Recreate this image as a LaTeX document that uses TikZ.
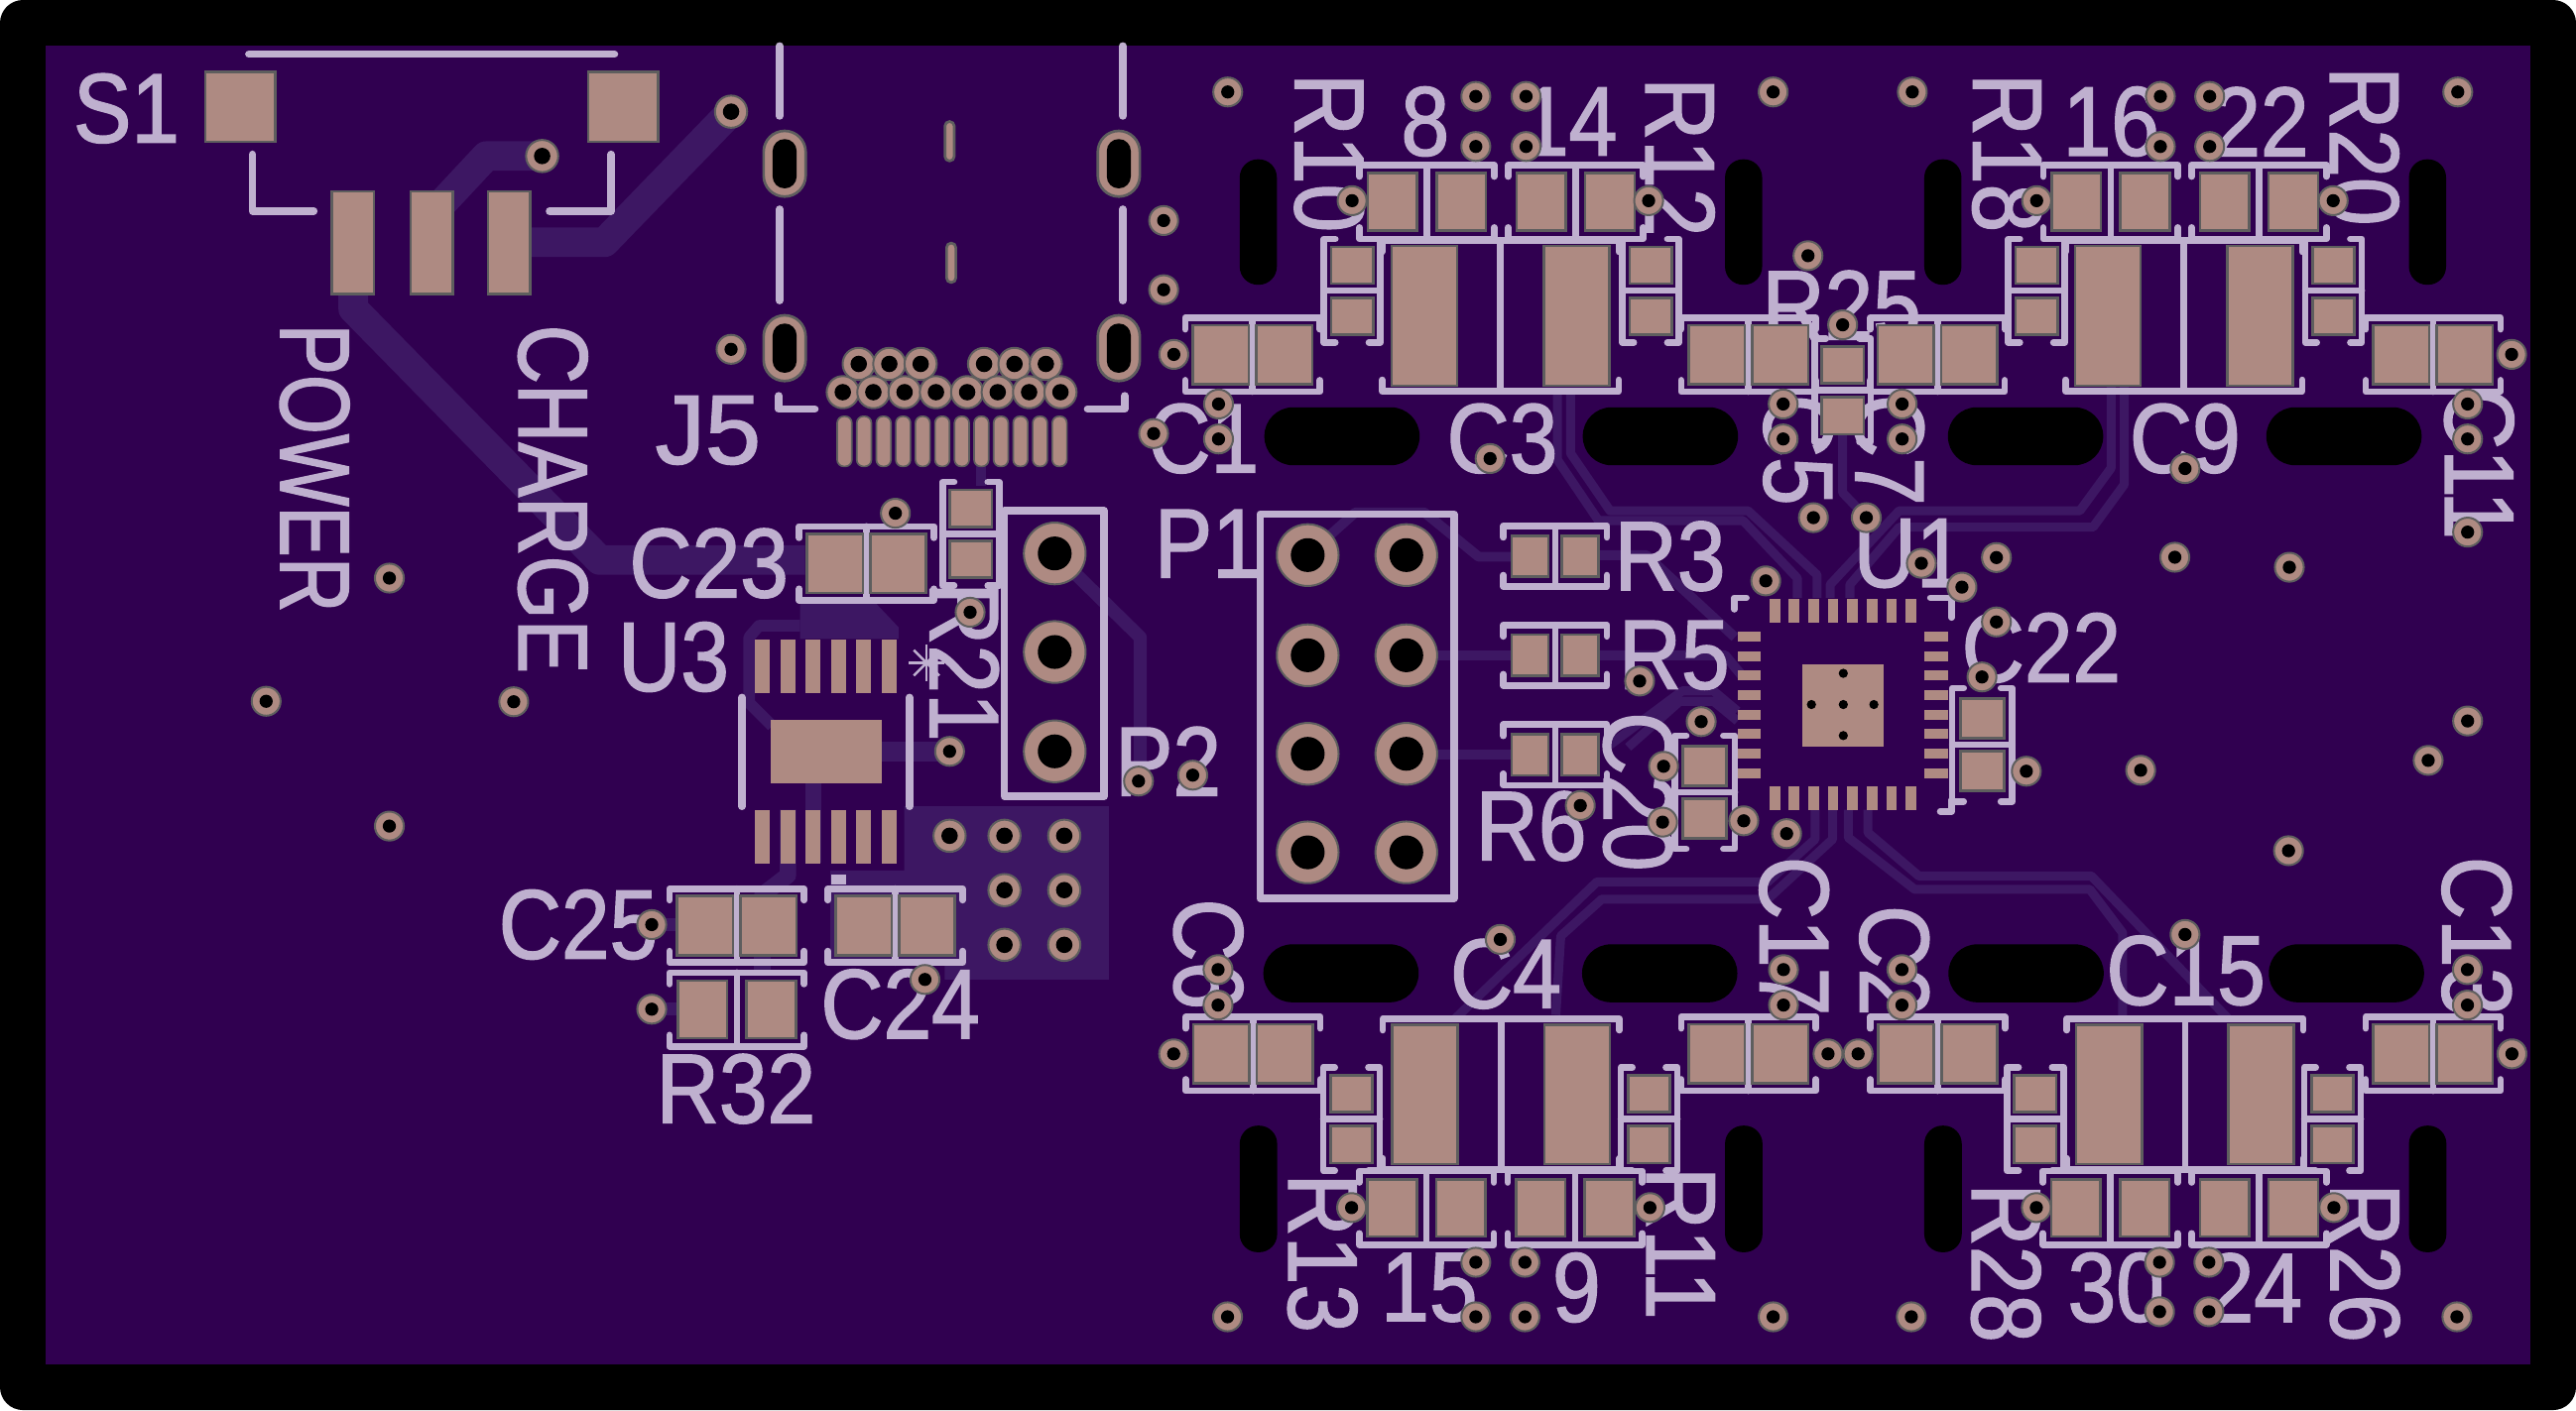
\documentclass[tikz,border=0pt]{standalone}
\usepackage{fontspec}
\newfontfamily\silkfont[FakeStretch=0.88,FakeBold=1.5]{Liberation Sans}
\definecolor{boardc}{HTML}{300050}
\definecolor{padc}{HTML}{AE8A82}
\definecolor{edgec}{HTML}{5E5E5E}
\definecolor{silkc}{HTML}{BFB0CF}
\definecolor{trackc}{HTML}{3D1763}
\tikzset{
  silk/.style={text=silkc,font=\silkfont\fontsize{60}{60}\selectfont,inner sep=0pt},
  silkline/.style={draw=silkc,line width=4.6,line cap=round,line join=round},
  chipline/.style={draw=silkc,line width=4,line cap=round,line join=round},
  copper/.style={fill=padc,draw=edgec,line width=1.6},
  flatpad/.style={fill=padc},
  track/.style={draw=trackc,line width=5.5,line join=round},
  wide/.style={draw=trackc,line width=18,line join=round},
  viaring/.style={fill=padc,draw=edgec,line width=1.2},
  pics/chip/.style n args={5}{code={
    \draw[chipline] (-#4,{-#5+7}) -- (-#4,-#5) -- (#4,-#5) -- (#4,{-#5+7});
    \draw[chipline] (-#4,{#5-7}) -- (-#4,#5) -- (#4,#5) -- (#4,{#5-7});
    \draw[chipline] (0,-#5) -- (0,#5);
    \draw[copper] ({-#3-#1/2},{-#2/2}) rectangle ({-#3+#1/2},{#2/2});
    \draw[copper] ({#3-#1/2},{-#2/2}) rectangle ({#3+#1/2},{#2/2});
  }},
  pics/capchip/.style={chip={34}{36}{19.3}{41}{22.5}},
  pics/reschip/.style={chip={30}{35}{20.9}{41}{22.5}},
  pics/midchip/.style={chip={22.5}{25}{15.3}{31.5}{18.5}},
  pics/tinychip/.style={chip={22.5}{25.6}{15.5}{31.5}{17.2}},
  pics/smdchip/.style={chip={24}{26.5}{16}{34.5}{18.3}},
  pics/bigchip/.style={chip={40}{85}{46.3}{72}{46}},
}
\begin{document}
\begin{tikzpicture}[x=1pt,y=-1pt]
\useasboundingbox (0,0) rectangle (1568,858.6);
\fill[black,rounded corners=14] (0,0) rectangle (1568,858.6);
\fill[boardc] (28,28) rectangle (1540,831);

% tracks
\draw[wide] (322,147.5) -- (368,147.5) -- (445,68);
\draw[wide] (268,125) -- (296,95) -- (330,95);
\draw[wide] (215,179) -- (215,188) -- (365,341) -- (490,341);
\fill[trackc] (487,364) -- (530,364) -- (547,382) -- (547,389) -- (487,389) -- cycle;
\fill[trackc] (550.4,491) -- (675,491) -- (675,596.4) -- (575,596.4) -- (575,586) -- (505.5,586) -- (505.5,530) -- (550.4,530) -- cycle;
\draw[track,line width=7] (487,381) -- (462,381) -- (456,388) -- (456,428) -- (470,442);
\draw[track,line width=12] (537,457.5) -- (578,457.5);
\draw[track,line width=10] (495,477) -- (495,525);
\draw[track,line width=10] (479.6,493) -- (479.6,533) -- (464,545) -- (464,592);
\draw[track,line width=8] (642,337) -- (694,388) -- (694,475);
\draw[track,line width=8] (396.7,563) -- (413,563);
\draw[track,line width=8] (396.7,614.5) -- (413,614.5);
\draw[track,line width=6] (597,284) -- (597,296);
\draw[track] (948,238) -- (948,280) -- (973,317) -- (1061,317) -- (1094,352) -- (1094,364);
\draw[track] (956,238) -- (956,276) -- (980,311) -- (1064,311) -- (1106,350) -- (1106,364);
\draw[track] (1114,364) -- (1114,356) -- (1156,311) -- (1266,311) -- (1285,285) -- (1285,235);
\draw[track] (1126,364) -- (1126,356) -- (1156,321) -- (1274,321) -- (1293,295) -- (1293,235);
\draw[track] (1121.6,264) -- (1121.6,300) -- (1136,315);
\draw[track,line width=6] (796,338) -- (825,312) -- (867,312) -- (900,339) -- (920,339);
\draw[track,line width=6] (973,338) -- (1002,338) -- (1056,388);
\draw[track,line width=6] (856,399) -- (920,399);
\draw[track,line width=6] (973,399) -- (1050,399) -- (1060,411);
\draw[track,line width=6] (856,459.5) -- (920,459.5);
\draw[track] (978,455) -- (1024,420.7) -- (1043,420.7) -- (1057.6,433);
\draw[track] (991,455) -- (1022.5,427) -- (1043,427) -- (1057.6,439);
\draw[track] (1104.8,493) -- (1104.8,511) -- (1076,537) -- (972,537) -- (886,620);
\draw[track] (1115.5,493) -- (1115.5,511) -- (1076,547.5) -- (975,547.5) -- (950,570) -- (947,618);
\draw[track] (1125,493) -- (1125,510) -- (1165.4,541.5) -- (1272,541.5) -- (1292,568) -- (1292,620);
\draw[track] (1137,493) -- (1137,507) -- (1168,533.4) -- (1273,533.4) -- (1356,620);

% silkscreen lines
\draw[silkline] (151.5,33) -- (374,33);
\draw[silkline] (153.7,94) -- (153.7,128.5) -- (191,128.5);
\draw[silkline] (372,94) -- (372,128.5) -- (334.5,128.5);
\draw[silkline] (474.5,28) -- (474.5,70.6);
\draw[silkline] (474.5,127.4) -- (474.5,183);
\draw[silkline] (683.5,28) -- (683.5,70.6);
\draw[silkline] (683.5,127.4) -- (683.5,183);
\draw[silkline] (474,241) -- (474,249) -- (496,249);
\draw[silkline] (684.6,241) -- (684.6,249) -- (662,249);
\draw[silkline] (767,313) rectangle (885,547);
\draw[silkline] (611.4,311) rectangle (672,485);
\draw[silkline] (451.6,424.7) -- (451.6,491);
\draw[silkline] (553.5,424.7) -- (553.5,491);
\draw[chipline] (1055.7,371) -- (1055.7,364) -- (1063,364);
\draw[chipline] (1175,364) -- (1188,364) -- (1188,376);
\draw[chipline] (1188,487) -- (1188,494) -- (1181,494);
\fill[silkc] (505.9,532.4) rectangle (514.9,538.4);
\foreach \a in {0,45,...,315}
  \draw[silkc,line width=1.5] (564,403.6) -- ++(\a:11);

% silkscreen labels
\node[silk] (lblSone) at (77,66) {S1};
\node[silk] (lblJfive) at (431,262) {\scalebox{1.15}[1]{J5}};
\node[silk,rotate=-90] (lblPower) at (191.5,285) {\scalebox{.88}[1]{POWER}};
\node[silk,rotate=-90] (lblCharge) at (336.5,304) {\scalebox{.94}[1]{CHARGE}};
\node[silk] (lblCtwothree) at (431.5,343) {C23};
\node[silk] (lblUthree) at (410,400) {U3};
\node[silk,rotate=-90] (lblRtwoone) at (587,403) {R21};
\node[silk] (lblPtwo) at (711,463.5) {P2};
\node[silk] (lblPone) at (735,331) {P1};
\node[silk] (lblCtwofive) at (352,563) {C25};
\node[silk] (lblCtwofour) at (548,611.5) {C24};
\node[silk] (lblRthreetwo) at (448,663) {R32};
\node[silk,rotate=-90] (lblRten) at (809,93) {R10};
\node[silk] (lblEight) at (867.5,74) {8};
\node[silk] (lblFourteen) at (955,74) {14};
\node[silk,rotate=-90] (lblRtwelve) at (1022.7,95.6) {R12};
\node[silk,rotate=-90] (lblReighteen) at (1221.7,93) {R18};
\node[silk] (lblSixteen) at (1285,74) {16};
\node[silk] (lblTwotwo) at (1376,74) {22};
\node[silk,rotate=-90] (lblRtwenty) at (1439,89) {R20};
\node[silk] (lblCone) at (732.5,267) {C1};
\node[silk] (lblCthree) at (914.4,267) {C3};
\node[silk,rotate=-90] (lblCfive) at (1094.5,274) {C5};
\node[silk,rotate=-90] (lblCseven) at (1150,274) {C7};
\node[silk] (lblCnine) at (1330,267) {C9};
\node[silk,rotate=-90] (lblCeleven) at (1509,282) {C11};
\node[silk] (lblRtwofive) at (1121,186) {R25};
\node[silk] (lblRthree) at (1016.5,338.7) {R3};
\node[silk] (lblRfive) at (1019,399) {R5};
\node[silk] (lblRsix) at (932,503) {R6};
\node[silk,rotate=-90] (lblCtwenty) at (997,482) {C20};
\node[silk] (lblUone) at (1162,337) {U1};
\node[silk] (lblCtwotwo) at (1242.5,394.5) {C22};
\node[silk,rotate=-90] (lblCseventeen) at (1092,570) {C17};
\node[silk,rotate=-90] (lblCsix) at (735.5,581) {C6};
\node[silk] (lblCfour) at (916.5,593) {C4};
\node[silk,rotate=-90] (lblCtwo) at (1153,585) {C2};
\node[silk] (lblCfifteen) at (1330.5,591) {C15};
\node[silk,rotate=-90] (lblCthirteen) at (1507.5,570) {C13};
\node[silk,rotate=-90] (lblRthirteen) at (805,763) {R13};
\node[silk] (lblFifteen) at (870,784) {15};
\node[silk] (lblNine) at (959.6,784) {9};
\node[silk,rotate=-90] (lblReleven) at (1023,757) {R11};
\node[silk,rotate=-90] (lblRtweight) at (1221,769) {R28};
\node[silk] (lblThirty) at (1288,784) {30};
\node[silk] (lblTwofour) at (1372,784) {24};
\node[silk,rotate=-90] (lblRtwosix) at (1439.5,769) {R26};

% chips
\foreach \p in {(527.5,343),(762.4,216),(1064.3,216),(1179.3,216),(1481,216),(448.5,563.6),(545,563.6),(762.7,641.7),(1064.3,641.7),(1179.4,641.7),(1481,641.7)}
  \pic at \p {capchip};
\foreach \p in {(448.5,614.7),(868.5,123),(959,123),(1284.7,123),(1375,123),(868.3,735.5),(958.7,735.5),(1284.5,735.5),(1375,735.5)}
  \pic at \p {reschip};
\foreach \p in {(946.6,338.7),(946.6,399),(946.6,459.6)}
  \pic at \p {midchip};
\foreach \p in {(823,177),(1004.7,177),(1239.7,177),(1420.4,177),(1121.6,237.6),(591,325),(822.7,681.4),(1003.8,681.4),(1238.9,681.4),(1419.8,681.4)}
  \pic[rotate=90] at \p {tinychip};
\foreach \p in {(1037.7,482.4),(1206.6,453.5)}
  \pic[rotate=90] at \p {smdchip};
\foreach \p in {(913.3,192.3),(1329.3,192.3),(913.7,666.3),(1330,666.3)}
  \pic at \p {bigchip};

% S1 and J5 pads
\draw[copper] (125,43.8) rectangle (167.5,86.4);
\draw[copper] (358,43.8) rectangle (400.5,86.4);
\foreach \x in {202,250,297}
  \draw[copper] (\x,116.6) rectangle ++(25.6,62.4);
\draw[copper,rounded corners=2.7] (575.2,74) rectangle (580.8,98);
\draw[copper,rounded corners=2.7] (576.2,148) rectangle (581.8,172);
\foreach \x in {0,...,11}
  \draw[copper,line width=1,rounded corners=4] ({509.6+11.9*\x},253.5) rectangle ++(8.9,30.5);
\foreach \x/\y in {477.6/99.7,477.6/212,681/99.7,681/212} {
  \draw[copper,rounded corners=12.8] ({\x-12.8},{\y-20}) rectangle ({\x+12.8},{\y+20});
  \fill[black,rounded corners=7.2] ({\x-7.3},{\y-15}) rectangle ({\x+7.3},{\y+15});
}

% U1 and U3 pads
\foreach \x in {1080.5,1091.8,1104,1115.8,1127.4,1139.5,1151.4,1163} {
  \fill[flatpad] ({\x-3.2},364.7) rectangle ++(6.4,14.5);
  \fill[flatpad] ({\x-3.2},479) rectangle ++(6.4,14.5);
}
\foreach \y in {387.7,399.7,411.2,423.3,435.4,446.8,458.9,471} {
  \fill[flatpad] (1057.6,{\y-3.2}) rectangle ++(14,6.4);
  \fill[flatpad] (1171.6,{\y-3.2}) rectangle ++(14.4,6.4);
}
\fill[flatpad] (1097.2,404.6) rectangle (1146.6,454.6);
\foreach \p in {(1122,410),(1102.6,429),(1122,429),(1140.6,429),(1122,447.9)}
  \fill[black] \p circle (2.8);
\foreach \x in {459.6,475,490.4,505.8,521.2,536.6} {
  \fill[flatpad] (\x,389.5) rectangle ++(9.2,32.5);
  \fill[flatpad] (\x,493.5) rectangle ++(9.2,32.3);
}
\fill[flatpad] (469,438.4) rectangle (536.6,477);

% header pads
\foreach \p in {(796,338),(856,338),(796,399),(856,399),(796,459),(856,459),(796,519),(856,519),(642,337),(642,397),(642,457.5)} {
  \draw[viaring] \p circle (18.8);
  \fill[black] \p circle (10.3);
}

% slots
\foreach \x/\y in {769.6/248,963.4/248,1185.7/248,1379.5/248,769/575,963/575,1186/575,1381/575}
  \fill[black,rounded corners=17.5] (\x,\y) rectangle ++(94.5,35.3);
\foreach \x in {754.6,1050,1171.3,1466.3} {
  \fill[black,rounded corners=11] (\x,97) rectangle ++(22.6,76.4);
  \fill[black,rounded corners=11] (\x,685.4) rectangle ++(22.8,77.1);
}

% vias
\foreach \p in {(445,212.7),(237,352),(162,427),(312.7,427.3),(237,503),(545,312.5),(590.5,372.8),(578,457.5),(693,475.6),(726,472),
  (747.3,56),(898.3,58.7),(928.9,58.7),(1079.3,56),(1164,56),(1315,58.7),(1345,58.7),(1496,56),
  (898.3,89.2),(928.9,89.2),(1315,89.2),(1345,89.2),(708.3,134.3),(708.3,176.4),
  (823,122.2),(1003.5,122.2),(1239.7,122.2),(1420.2,122.2),(1100.5,155.7),(1121.6,197.8),(714.5,215.8),(1528.8,215.8),
  (741.7,246),(741.7,267.3),(702.2,264),(907,279.2),(1085.4,246),(1085.4,267.3),(1157.8,246),(1157.8,267.3),(1502,246),(1502,267.3),(1330,285.3),(1502,324),
  (1103.8,315.2),(1136,315.2),(1169.5,343),(1215.2,339.5),(1323.8,339.3),(1393.5,345.4),(1074.8,353.7),(1194.2,357.5),(1215.2,378.7),(1206.4,412.2),(998,414.7),
  (1035.5,439.4),(1012.6,466.6),(1012,500.6),(1061.4,499.8),(1087.5,507.6),(961.9,490.5),(1233.4,469.6),(1502,439),(1478,463),(1303,469),(1393,518),
  (913.2,572),(741.4,590.4),(741.4,612),(714.4,641.7),(1085.6,590.4),(1085.6,612),(1112.7,641.7),(1131,641.7),(1157.7,590.4),(1157.7,612),(1330,569),(1501.9,590.4),(1501.9,612),(1529,641.7),
  (822.7,735.3),(1004.3,735.3),(1239.5,735.3),(1420.6,735.3),(898.3,768.6),(928.2,768.6),(1314.5,768.6),(1344.5,768.6),
  (747.2,801.8),(898.3,801.8),(928.2,801.8),(1079.3,801.8),(1163.4,801.8),(1314.5,798.7),(1344.5,798.7),(1495.5,801.8),
  (396.7,563),(396.7,614.5),(563,596.4)} {
  \draw[viaring] \p circle (8.8);
  \fill[black] \p circle (4);
}
\foreach \p in {(445,68),(330,95),(522.7,221.6),(541.3,221.6),(560.4,221.6),(599,221.6),(617.5,221.6),(636.6,221.6),(513,238.8),(531.6,238.8),(550.6,238.8),(569.7,238.8),(588.7,238.8),(607.3,238.8),(626.4,238.8),(645.5,238.8),
  (578,508.9),(611.4,508.9),(647.8,508.9),(611.4,542),(647.8,542),(611.4,575.3),(647.8,575.3)} {
  \draw[viaring] \p circle (9.8);
  \fill[black] \p circle (5);
}
\end{tikzpicture}
\end{document}
